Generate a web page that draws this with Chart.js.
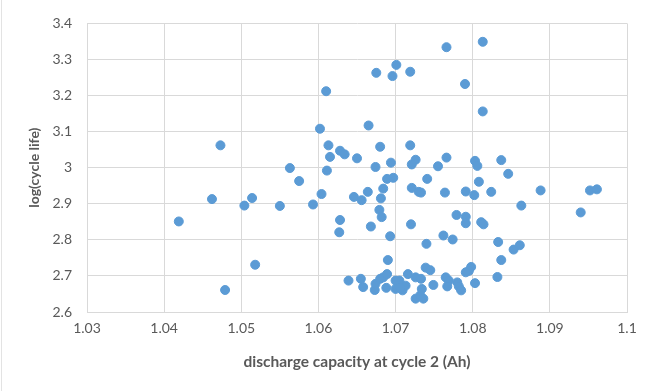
<!DOCTYPE html>
<html>
<head>
<meta charset="utf-8">
<script src="https://cdn.jsdelivr.net/npm/chart.js@4/dist/chart.umd.min.js"></script>
<style>
  html, body { margin: 0; padding: 0; background: #fff; }
  #wrap { position: relative; width: 654px; height: 391px; }
  #wrap::before { content: ""; position: absolute; left: 1px; top: 0; bottom: 0; border-left: 1px solid #E3E3E3; }
</style>
</head>
<body>
<div id="wrap"><canvas id="scatterChart" width="654" height="391"></canvas></div>
<script>
// discharge capacity at cycle 2 (Ah)
const capacity = [
  1.0419, 1.0473, 1.0462, 1.0479, 1.0504, 1.0514, 1.0518, 1.0550, 1.0563, 1.0575,
  1.0593, 1.0604, 1.0602, 1.0610, 1.0613, 1.0615, 1.0611, 1.0628, 1.0634, 1.0650,
  1.0665, 1.0675, 1.0680, 1.0674, 1.0694, 1.0696, 1.0701, 1.0719, 1.0719, 1.0726,
  1.0721, 1.0741, 1.0755, 1.0766, 1.0766, 1.0790, 1.0813, 1.0813, 1.0803, 1.0806,
  1.0837, 1.0846, 1.0808, 1.0824, 1.0689, 1.0697, 1.0684, 1.0664, 1.0646, 1.0656,
  1.0681, 1.0721, 1.0730, 1.0733, 1.0764, 1.0791, 1.0802, 1.0888, 1.0952, 1.0961,
  1.0863, 1.0940, 1.0628, 1.0627, 1.0668, 1.0679, 1.0682, 1.0720, 1.0693, 1.0740,
  1.0762, 1.0774, 1.0779, 1.0791, 1.0791, 1.0811, 1.0814, 1.0833, 1.0853, 1.0861,
  1.0837, 1.0690, 1.0832, 1.0803, 1.0798, 1.0795, 1.0791, 1.0739, 1.0745, 1.0639,
  1.0655, 1.0658, 1.0673, 1.0674, 1.0680, 1.0684, 1.0689, 1.0688, 1.0700, 1.0705,
  1.0709, 1.0713, 1.0716, 1.0726, 1.0733, 1.0726, 1.0732, 1.0736, 1.0734, 1.0749,
  1.0765, 1.0769, 1.0767, 1.0780, 1.0782, 1.0785, 1.0700, 1.0706
];
// log(cycle life)
const logLife = [
  2.851, 3.062, 2.913, 2.661, 2.895, 2.916, 2.731, 2.894, 2.999, 2.963,
  2.898, 2.927, 3.108, 3.212, 3.062, 3.030, 2.992, 3.047, 3.037, 3.026,
  3.117, 3.263, 3.058, 3.002, 3.014, 3.254, 3.285, 3.266, 3.062, 3.022,
  3.009, 2.969, 3.004, 3.334, 3.028, 3.232, 3.349, 3.156, 3.019, 3.005,
  3.021, 2.983, 2.961, 2.933, 2.969, 2.972, 2.942, 2.933, 2.919, 2.910,
  2.915, 2.944, 2.933, 2.931, 2.931, 2.934, 2.924, 2.937, 2.937, 2.940,
  2.895, 2.876, 2.855, 2.821, 2.837, 2.883, 2.863, 2.843, 2.810, 2.789,
  2.812, 2.801, 2.869, 2.864, 2.846, 2.849, 2.843, 2.794, 2.773, 2.785,
  2.744, 2.744, 2.697, 2.680, 2.725, 2.714, 2.710, 2.723, 2.716, 2.687,
  2.692, 2.669, 2.661, 2.678, 2.692, 2.696, 2.705, 2.667, 2.664, 2.687,
  2.660, 2.673, 2.705, 2.696, 2.692, 2.637, 2.646, 2.637, 2.664, 2.675,
  2.696, 2.687, 2.671, 2.682, 2.671, 2.660, 2.687, 2.667
];

const xTitle = "discharge capacity at cycle 2 (Ah)";
const yTitle = "log(cycle life)";

const points = capacity.map((x, i) => ({ x: x, y: logLife[i] }));
const fmt = (v) => String(+v.toFixed(2));

const ctx = document.getElementById("scatterChart").getContext("2d");
new Chart(ctx, {
  type: "scatter",
  data: {
    datasets: [
      {
        label: yTitle,
        data: points,
        backgroundColor: "#5B9BD5",
        borderColor: "#5B9BD5",
        borderWidth: 1,
        pointRadius: 4.5,
      },
    ],
  },
  options: {
    responsive: false,
    animation: false,
    layout: { padding: { top: 19, right: 27, left: 0, bottom: 0 } },
    plugins: {
      legend: { display: false },
      tooltip: { enabled: false },
    },
    scales: {
      x: {
        type: "linear",
        min: 1.03,
        max: 1.1,
        afterFit: (s) => { s.height = 79; },
        ticks: {
          stepSize: 0.01,
          callback: fmt,
          color: "#595959",
          font: { family: "Lato", size: 14 },
          padding: 8,
        },
        grid: { color: "#D9D9D9", drawTicks: false },
        border: { color: "#D9D9D9" },
        title: {
          display: true,
          text: xTitle,
          color: "#595959",
          font: { family: "Lato", size: 15.5, weight: "bold" },
          padding: { top: 0, bottom: 20 },
        },
      },
      y: {
        min: 2.6,
        max: 3.4,
        afterFit: (s) => { s.width = 87; },
        ticks: {
          stepSize: 0.1,
          callback: fmt,
          color: "#595959",
          font: { family: "Lato", size: 14 },
          padding: 15,
        },
        grid: { color: "#D9D9D9", drawTicks: false },
        border: { color: "#D9D9D9" },
        title: {
          display: true,
          text: yTitle,
          color: "#595959",
          font: { family: "Lato", size: 14, weight: "bold" },
          padding: { top: 26, bottom: 0 },
        },
      },
    },
  },
});
</script>
</body>
</html>
